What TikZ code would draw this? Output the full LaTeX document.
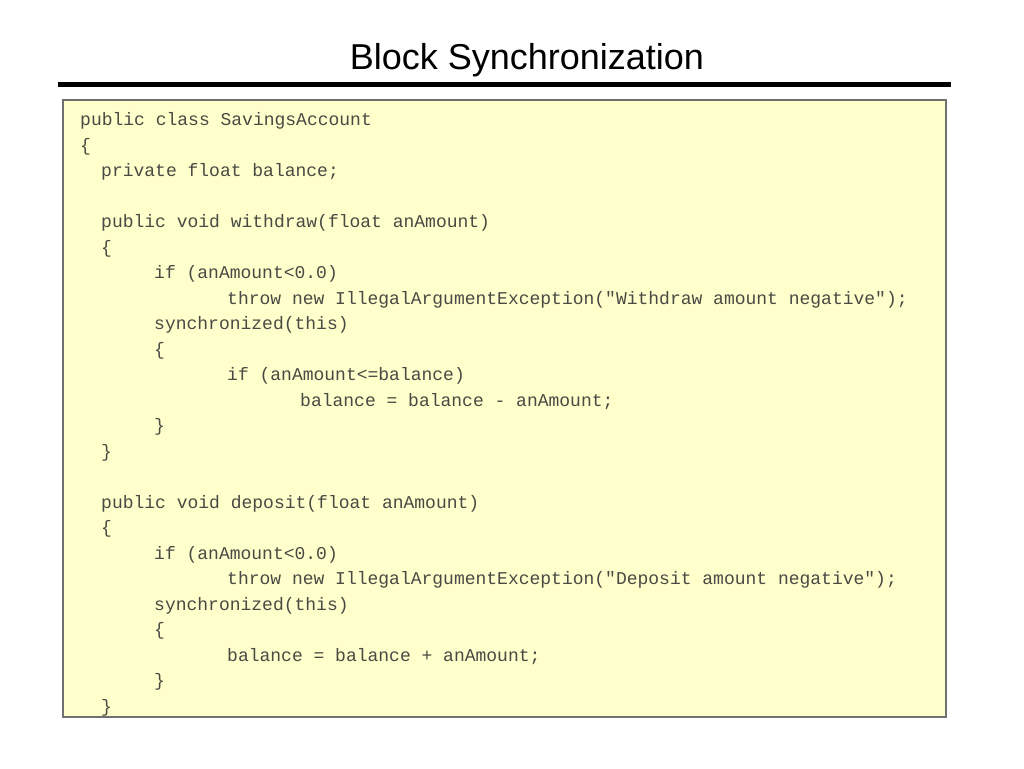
\documentclass[tikz,border=0pt]{standalone}
\usepackage{fontspec}
\setmainfont{Liberation Sans}
\setmonofont{Liberation Mono}
\usepackage{tikz}
\usetikzlibrary{positioning}
\definecolor{codefill}{HTML}{FFFFCC}
\definecolor{codetext}{HTML}{4A4A44}
\definecolor{codeframe}{HTML}{707070}

\begin{document}
\begin{tikzpicture}[x=1pt,y=-1pt,
        codeline/.style={anchor=base west,inner sep=0pt,text=codetext,font=\ttfamily\fontsize{18}{20}\selectfont},
        heading/.style={anchor=base,inner sep=0pt,font=\fontsize{36}{40}\selectfont}]
        \useasboundingbox (0,0) rectangle (1024,768);

        \node[heading] (title) at (527,69) {Block Synchronization};
        \coordinate (ruleL) at (58,84.5);
        \coordinate (ruleR) at (951,84.5);
        \draw[line width=5.5pt] (ruleL)--(ruleR);

        \draw[codeframe,fill=codefill,line width=1.5pt] (63,100) rectangle (946,717);

        \foreach \n/\ind/\txt in {1/80/public class SavingsAccount,2/80/\{,3/101/private float balance;,
            5/101/public void withdraw(float anAmount),6/101/\{,7/154/if (anAmount<0.0),
            8/227/throw new IllegalArgumentException("Withdraw amount negative");,
            9/154/synchronized(this),10/154/\{,11/227/if (anAmount<=balance),
            12/300/balance = balance - anAmount;,13/154/\},14/101/\},
            16/101/public void deposit(float anAmount),17/101/\{,18/154/if (anAmount<0.0),
            19/227/throw new IllegalArgumentException("Deposit amount negative");,
            20/154/synchronized(this),21/154/\{,22/227/balance = balance + anAmount;,
            23/154/\},24/101/\}}
            \node[codeline] (l\n) at (\ind,{125.5+(\n-1)*25.5}) {\txt};

    \end{tikzpicture}
\end{document}
